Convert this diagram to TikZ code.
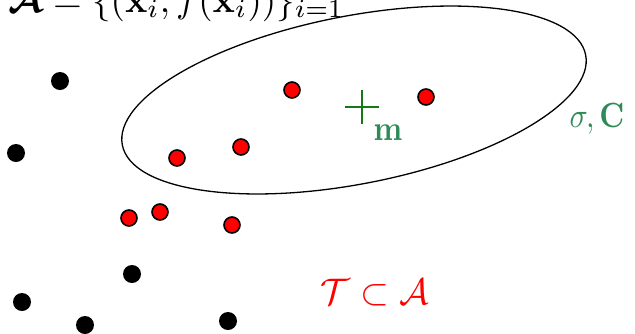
\documentclass[tikz,border=0pt]{standalone}
\usepackage{amsmath,amssymb,bm}
\definecolor{ptred}{RGB}{255,0,0}
\definecolor{plusgreen}{RGB}{20,120,20}
\definecolor{txtgreen}{RGB}{46,139,87}
\begin{document}
\begin{tikzpicture}[x=1pt,y=1pt,
  bdot/.style={circle,fill=black,inner sep=0pt,minimum size=18pt},
  rdot/.style={circle,fill=ptred,draw=black,line width=1.6pt,inner sep=0pt,minimum size=16pt},
  biglbl/.style={inner sep=0pt,scale=3.7},
  grnlbl/.style={inner sep=0pt,xscale=3,yscale=3.5,txtgreen}]
\useasboundingbox (0,0) rectangle (635,-333);
% ellipse
\draw[line width=1.3pt,rotate around={11:(354,-100)}] (354,-100) ellipse [x radius=236, y radius=84];
% black points
\node[bdot] (b1) at (60,-81) {};
\node[bdot] (b2) at (16,-153) {};
\node[bdot] (b3) at (132,-274) {};
\node[bdot] (b4) at (22,-302) {};
\node[bdot] (b5) at (85,-325) {};
\node[bdot] (b6) at (228,-321) {};
% red points
\node[rdot] (r1) at (292,-90) {};
\node[rdot] (r2) at (426,-97) {};
\node[rdot] (r3) at (241,-147) {};
\node[rdot] (r4) at (177,-158) {};
\node[rdot] (r5) at (129,-218) {};
\node[rdot] (r6) at (160,-212) {};
\node[rdot] (r7) at (232,-225) {};
% mean
\coordinate (m) at (362,-107);
\draw[plusgreen,line width=2pt] ([xshift=-17]m) -- ([xshift=17]m) ([yshift=-17]m) -- ([yshift=17]m);
\node[grnlbl,anchor=base west] (ml) at (373,-140) {$\mathbf{m}$};
\node[grnlbl,anchor=base west] (sc) at (569,-127) {$\sigma, \mathbf{C}$};
\node[biglbl,ptred,anchor=base west] (ta) at (320,-304) {$\mathcal{T} \subset \mathcal{A}$};
\node[biglbl,anchor=base west] (top) at (8,-12) {$\bm{\mathcal{A}} = \{(\mathbf{x}_i, f(\mathbf{x}_i))\}_{i=1}$};
\end{tikzpicture}
\end{document}
